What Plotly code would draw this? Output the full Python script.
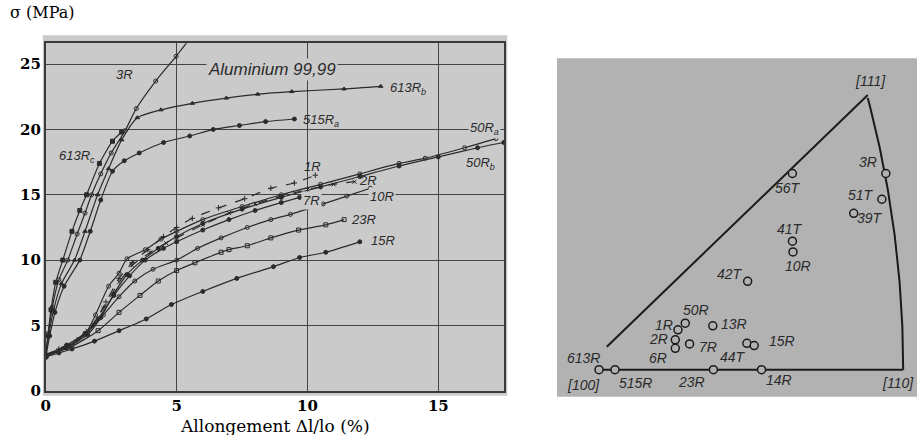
import numpy as np
import plotly.graph_objects as go

# ---------------- left panel data: stress-strain curves (x = Δl/lo %, y = σ MPa)
c613Rc_x = [0, 0.08, 0.2, 0.38, 0.65, 1.0, 1.3, 1.56, 2.05, 2.55, 2.9]
c613Rc_y = [2.6, 4.2, 6.2, 8.3, 10.0, 12.2, 13.8, 15.0, 17.4, 19.1, 19.8]
c3R_x = [0, 0.1, 0.25, 0.5, 0.84, 1.2, 1.5, 1.75, 2.1, 2.5, 3.03, 3.46, 4.2, 4.98, 5.45]
c3R_y = [2.6, 4.4, 6.4, 8.5, 10.0, 12.0, 13.6, 15.0, 16.6, 18.2, 19.9, 21.6, 23.7, 25.6, 26.8]
c613Rb_x = [0, 0.12, 0.3, 0.6, 1.1, 1.5, 1.98, 2.4, 2.9, 3.5, 4.4, 5.6, 6.9, 8.1, 9.4, 11.4, 12.8]
c613Rb_y = [2.6, 4.3, 6.2, 8.2, 10.0, 12.2, 15.0, 17.0, 19.2, 20.9, 21.5, 22.0, 22.4, 22.7, 22.9, 23.1, 23.3]
c515Ra_x = [0, 0.15, 0.35, 0.7, 1.3, 1.7, 2.1, 2.55, 3.0, 3.57, 4.5, 5.5, 6.4, 7.4, 8.4, 9.5]
c515Ra_y = [2.6, 4.2, 6.0, 8.0, 10.0, 12.2, 14.6, 16.8, 17.6, 18.2, 19.0, 19.5, 20.0, 20.3, 20.6, 20.8]
c1R_x = [0, 0.5, 1.2, 1.8, 2.3, 2.8, 3.3, 3.9, 4.5, 5.0, 5.6, 6.6, 7.6, 8.6, 9.5, 10.3]
c1R_y = [2.6, 3.2, 3.9, 5.0, 6.8, 8.6, 9.8, 10.8, 11.8, 12.5, 13.2, 14.0, 14.7, 15.5, 15.9, 16.5]
c50Ra_x = [0, 0.8, 1.5, 1.9, 2.4, 2.8, 3.1, 3.8, 4.4, 5.0, 6.0, 7.5, 9.0, 10.5, 12.0, 13.5, 14.5, 16.0, 17.2]
c50Ra_y = [2.8, 3.4, 4.3, 5.8, 8.0, 9.0, 10.1, 10.8, 11.6, 12.2, 13.1, 14.1, 15.0, 15.8, 16.6, 17.4, 17.8, 18.6, 19.3]
c50Rb_x = [0, 0.8, 1.6, 2.1, 2.6, 3.1, 3.7, 4.3, 5.0, 6.0, 7.5, 9.0, 10.5, 12.0, 13.5, 15.0, 16.5, 17.5]
c50Rb_y = [2.7, 3.3, 4.3, 5.6, 7.4, 8.9, 10.0, 10.9, 11.8, 12.8, 13.9, 14.8, 15.6, 16.4, 17.2, 17.9, 18.6, 19.0]
c2R_x = [0, 0.8, 1.6, 2.2, 2.8, 3.3, 4.0, 4.6, 5.0, 6.0, 7.0, 8.0, 9.0, 10.0, 11.0, 11.8]
c2R_y = [2.7, 3.4, 4.6, 6.3, 8.3, 9.6, 10.6, 11.3, 11.7, 12.7, 13.6, 14.3, 14.9, 15.4, 15.8, 16.0]
c7R_x = [0, 0.8, 1.5, 2.0, 2.6, 3.2, 3.8, 4.5, 5.0, 6.0, 7.0, 8.0, 9.0, 9.7]
c7R_y = [2.7, 3.5, 4.4, 5.5, 7.3, 8.8, 10.0, 10.9, 11.4, 12.3, 13.1, 13.8, 14.4, 14.8]
c10R_x = [0, 0.8, 1.6, 2.2, 2.8, 3.4, 4.1, 5.0, 5.8, 6.7, 7.7, 8.6, 9.35, 10.6, 11.5, 12.4]
c10R_y = [2.7, 3.3, 4.5, 5.8, 7.2, 8.4, 9.3, 10.0, 10.9, 11.7, 12.5, 13.1, 13.5, 14.3, 14.9, 15.5]
c23R_x = [0, 1.0, 2.0, 2.8, 3.6, 4.3, 5.0, 5.7, 6.7, 7.0, 7.7, 8.6, 9.66, 10.7, 11.4]
c23R_y = [2.7, 3.4, 4.6, 6.0, 7.3, 8.4, 9.2, 9.8, 10.6, 10.8, 11.1, 11.7, 12.3, 12.7, 13.1]
c15R_x = [0, 0.5, 1.0, 1.86, 2.8, 3.84, 4.8, 6.0, 7.3, 8.7, 9.7, 10.7, 12.0]
c15R_y = [2.6, 2.9, 3.2, 3.8, 4.6, 5.5, 6.6, 7.6, 8.6, 9.5, 10.2, 10.6, 11.4]

x_ticks = [0, 5, 10, 15]
y_ticks = [0, 5, 10, 15, 20, 25]

# ---------------- right panel data: orientations in the standard triangle (stereographic coords)
pole_names = ["56T", "3R", "51T", "39T", "41T", "10R", "42T", "50R", "1R", "13R",
              "2R", "6R", "7R", "44T", "15R", "23R", "14R", "515R", "613R"]
pole_u = [0.2635, 0.3906, 0.3852, 0.3469, 0.2635, 0.2643, 0.2026, 0.1177, 0.1078, 0.1552,
          0.1042, 0.1042, 0.1236, 0.2016, 0.2115, 0.1560, 0.2215, 0.0221, 0.0004]
pole_v = [0.2643, 0.2643, 0.2296, 0.2107, 0.1732, 0.1587, 0.1191, 0.0627, 0.0537, 0.0591,
          0.0402, 0.0288, 0.0348, 0.0356, 0.0325, 0.0, 0.0, 0.0, 0.0]
corner_names = ["[100]", "[110]", "[111]"]

LINE = "#2b2b2b"
fig = go.Figure()

curves = [
    (c613Rc_x, c613Rc_y, "square", "solid"),
    (c3R_x, c3R_y, "circle-open", "solid"),
    (c613Rb_x, c613Rb_y, "triangle-up", "solid"),
    (c515Ra_x, c515Ra_y, "circle", "solid"),
    (c50Ra_x, c50Ra_y, "circle-open", "solid"),
    (c50Rb_x, c50Rb_y, "circle", "solid"),
    (c1R_x, c1R_y, "cross-thin-open", "dash"),
    (c2R_x, c2R_y, "x-thin-open", "dash"),
    (c7R_x, c7R_y, "circle", "solid"),
    (c10R_x, c10R_y, "circle-open", "solid"),
    (c23R_x, c23R_y, "square-open", "solid"),
    (c15R_x, c15R_y, "circle", "solid"),
]
for xs, ys, sym, dash in curves:
    fig.add_trace(go.Scatter(
        x=xs, y=ys, mode="lines+markers", xaxis="x", yaxis="y",
        line=dict(color=LINE, width=1.2, dash=dash, shape="spline", smoothing=0.6),
        marker=dict(symbol=sym, size=4, color=LINE, line=dict(color=LINE, width=1)),
        showlegend=False, hoverinfo="skip", cliponaxis=True))

# ---------------- right panel triangle edges (geometry of the projection)
phi = np.linspace(0, np.arctan(1 / np.sqrt(2)), 60)
a = np.cos(phi) / np.sqrt(2)
arc_u = a / (1 + a)
arc_v = np.sin(phi) / (1 + a)
u110 = np.sqrt(0.5) / (1 + np.sqrt(0.5))
u111 = (1 / np.sqrt(3)) / (1 + 1 / np.sqrt(3))

EDGE = "#1a1a1a"
fig.add_trace(go.Scatter(x=list(arc_u), y=list(arc_v), mode="lines", xaxis="x2", yaxis="y2",
                         line=dict(color=EDGE, width=2), showlegend=False, hoverinfo="skip"))
fig.add_trace(go.Scatter(x=[0, u110], y=[0, 0], mode="lines", xaxis="x2", yaxis="y2",
                         line=dict(color=EDGE, width=2), showlegend=False, hoverinfo="skip"))
fig.add_trace(go.Scatter(x=[0.011, u111], y=[0.031, u111 + 0.004], mode="lines", xaxis="x2", yaxis="y2",
                         line=dict(color=EDGE, width=2), showlegend=False, hoverinfo="skip"))
fig.add_trace(go.Scatter(x=pole_u, y=pole_v, mode="markers", xaxis="x2", yaxis="y2",
                         marker=dict(symbol="circle", size=8, color="#b2b2b2",
                                     line=dict(color=EDGE, width=1.5)),
                         showlegend=False, hoverinfo="skip"))

# ---------------- layout (positions given in reference-picture pixels, 917 x 435)
W, H = 917, 435
FIG_H = 446
def px_x(p): return p / W
def px_y(p): return (H - p) / H

BG_L = "#cacaca"
BG_R = "#b2b2b2"
shapes = [
    dict(type="rect", xref="paper", yref="paper", x0=px_x(38), x1=px_x(505), y0=px_y(394), y1=px_y(35),
         fillcolor=BG_L, line=dict(width=0), layer="below"),
    dict(type="rect", xref="paper", yref="paper", x0=px_x(555), x1=1.0, y0=px_y(395), y1=px_y(58),
         fillcolor=BG_R, line=dict(width=0), layer="below"),
]

lab_font = dict(family="Liberation Sans, Arial, DejaVu Sans", size=13, color="#2a2a2a", style="italic")
annotations = []
left_labels = [
    ("Aluminium 99,99", 8.65, 24.55, 17, True),
    ("3R", 3.0, 24.2, 13, False),
    ("613R<sub>b</sub>", 13.85, 23.1, 13, False),
    ("515R<sub>a</sub>", 10.5, 20.7, 13, False),
    ("613R<sub>c</sub>", 1.2, 17.9, 13, False),
    ("50R<sub>a</sub>", 16.75, 20.1, 13, True),
    ("50R<sub>b</sub>", 16.6, 17.4, 13, False),
    ("1R", 10.2, 17.2, 13, False),
    ("2R", 12.3, 16.1, 13, False),
    ("7R", 10.15, 14.6, 13, True),
    ("10R", 12.85, 14.85, 13, True),
    ("23R", 12.15, 13.1, 13, False),
    ("15R", 12.9, 11.5, 13, False),
]
for txt, x, y, sz, bg in left_labels:
    f = dict(lab_font); f["size"] = sz
    ann = dict(text=txt, x=x, y=y, xref="x", yref="y", showarrow=False, font=f, borderpad=1)
    if bg:
        ann["bgcolor"] = BG_L
    annotations.append(ann)

rfont = dict(lab_font); rfont["size"] = 14
pole_offsets = {
    "56T": (-4, -15), "3R": (-18, 11), "51T": (-21, 4), "39T": (16, -5), "41T": (-2, 12),
    "10R": (5, -14), "42T": (-18, 7), "50R": (11, 13), "1R": (-14, 5), "13R": (21, 2),
    "2R": (-17, 1), "6R": (-17, -10), "7R": (18, -3), "44T": (-14, -14), "15R": (28, 5),
    "23R": (-22, -12), "14R": (17, -10), "515R": (21, -13), "613R": (-16, 12),
}
for name, u, v in zip(pole_names, pole_u, pole_v):
    dx, dy = pole_offsets[name]
    annotations.append(dict(text=name, x=u, y=v, xref="x2", yref="y2", showarrow=False,
                            xshift=dx, yshift=dy, font=rfont))
corner_pos = [(0.0, 0.0, -15, -15), (u110, 0.0, -5, -13), (u111, u111, 3, 17)]
for name, (u, v, dx, dy) in zip(corner_names, corner_pos):
    annotations.append(dict(text=name, x=u, y=v, xref="x2", yref="y2", showarrow=False,
                            xshift=dx, yshift=dy, font=rfont))

serif = "DejaVu Serif, Liberation Serif, serif"
annotations.append(dict(text="σ (MPa)", x=px_x(3), y=px_y(12), xref="paper", yref="paper",
                        xanchor="left", yanchor="middle", showarrow=False,
                        font=dict(family=serif, size=16, color="black")))
annotations.append(dict(text="Allongement Δl/lo (%)", x=px_x(271), y=px_y(424.5), xref="paper", yref="paper",
                        xanchor="center", yanchor="middle", showarrow=False,
                        font=dict(family=serif, size=17, color="black")))

tickfont = dict(family=serif, size=15, color="black", weight="bold")
fig.update_layout(
    width=W, height=FIG_H, autosize=False,
    margin=dict(l=0, r=0, t=0, b=0),
    paper_bgcolor="white", plot_bgcolor="rgba(0,0,0,0)",
    shapes=shapes, annotations=annotations,
    xaxis=dict(domain=[px_x(41), px_x(502)], range=[0, 17.52], tickvals=x_ticks,
               ticktext=[str(t) for t in x_ticks], tickfont=tickfont,
               showgrid=True, gridcolor="#444444", gridwidth=1.3, zeroline=False,
               showline=True, mirror=True, linecolor="#3a3a3a", linewidth=1.6,
               ticks="", anchor="y", fixedrange=True),
    yaxis=dict(domain=[px_y(389), px_y(43)], range=[0, 26.6], tickvals=y_ticks,
               ticktext=[str(t) for t in y_ticks], tickfont=tickfont,
               showgrid=True, gridcolor="#444444", gridwidth=1.3, zeroline=False,
               showline=True, mirror=True, linecolor="#3a3a3a", linewidth=1.6,
               ticks="", anchor="x", fixedrange=True),
    xaxis2=dict(domain=[px_x(555), 1.0], range=[-0.0568, 0.433], visible=False, anchor="y2", fixedrange=True),
    yaxis2=dict(domain=[px_y(395), px_y(58)], range=[-0.0365, 0.4195], visible=False, anchor="x2", fixedrange=True),
)

fig.write_html("out.html", config={"displayModeBar": False},
               post_script="document.body.style.margin='0px';document.body.style.overflow='hidden';")
